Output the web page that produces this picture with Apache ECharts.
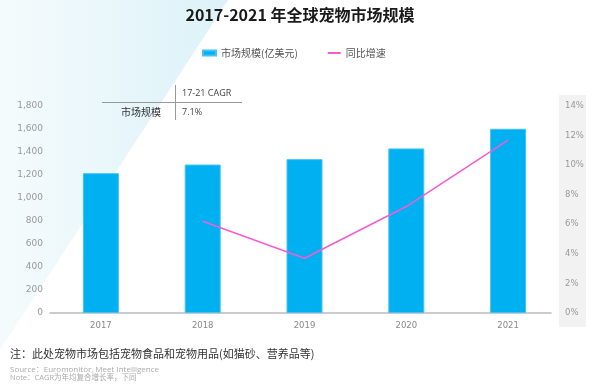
<!DOCTYPE html>
<html>
<head>
<meta charset="utf-8">
<script src="https://cdn.jsdelivr.net/npm/echarts@6/dist/echarts.min.js"></script>
<style>html,body{margin:0;padding:0;background:#fff;}#c{width:600px;height:387px;}</style>
</head>
<body>
<div id="c"></div>
<script>
const years = ['2017', '2018', '2019', '2020', '2021'];
const marketSize = [1216, 1291, 1338, 1431, 1602];
const growthRate = [null, 6.2, 3.7, 7.2, 11.7];
const leftTicks = {min: 0, max: 1800, interval: 200};
const rightTicks = {min: 0, max: 14, interval: 2};
const barName = '市场规模(亿美元)';
const lineName = '同比增速';

const chart = echarts.init(document.getElementById('c'), null, {renderer: 'canvas'});
const cjk = '"Noto Sans CJK SC", "Noto Sans", sans-serif';
const latin = '"Open Sans", "Noto Sans CJK SC", sans-serif';
const option = {
  animation: false,
  backgroundColor: '#fff',
  title: {
    text: '2017-2021 年全球宠物市场规模',
    left: 'center', top: 2,
    textStyle: {fontFamily: cjk, fontSize: 16, fontWeight: 'bold', color: '#1a1a1a'}
  },
  legend: {
    left: 197, top: 43,
    itemGap: 29, itemWidth: 13, itemHeight: 5,
    textStyle: {fontFamily: cjk, fontSize: 10, color: '#555'},
    data: [{name: barName, icon: 'rect'}, {name: lineName, itemStyle: {opacity: 0}}]
  },
  graphic: [
    {type: 'polygon', z: -20, silent: true,
     shape: {points: [[0, 0], [228, 0], [0, 350]]},
     style: {fill: new echarts.graphic.LinearGradient(0, 0, 1, 0, [
       {offset: 0, color: '#f5fbfd'}, {offset: 1, color: '#dcf2f8'}])}},
    {type: 'rect', z: -10, silent: true,
     shape: {x: 559, y: 95, width: 27, height: 232},
     style: {fill: '#f2f2f2'}},
    {type: 'line', shape: {x1: 102, y1: 102.5, x2: 242, y2: 102.5}, style: {stroke: '#999', lineWidth: 1}},
    {type: 'line', shape: {x1: 175.5, y1: 85, x2: 175.5, y2: 120}, style: {stroke: '#999', lineWidth: 1}},
    {type: 'text', x: 182, y: 93, style: {text: '17-21 CAGR', fontFamily: latin, fontSize: 9, fill: '#444', verticalAlign: 'middle'}},
    {type: 'text', x: 182, y: 112, style: {text: '7.1%', fontFamily: latin, fontSize: 9, fill: '#444', verticalAlign: 'middle'}},
    {type: 'text', x: 161, y: 112, style: {text: '市场规模', fontFamily: cjk, fontSize: 10, fill: '#333', align: 'right', verticalAlign: 'middle'}},
    {type: 'text', x: 10, y: 354, style: {text: '注：此处宠物市场包括宠物食品和宠物用品(如猫砂、营养品等)', fontFamily: cjk, fontSize: 11, fill: '#333', verticalAlign: 'middle'}},
    {type: 'text', x: 10, y: 370, style: {text: 'Source：Euromonitor, Meet Intelligence', fontFamily: latin, fontSize: 8, fill: '#aaa', verticalAlign: 'middle'}},
    {type: 'text', x: 10, y: 378, style: {text: 'Note：CAGR为年均复合增长率，下同', fontFamily: latin, fontSize: 7.5, fill: '#aaa', verticalAlign: 'middle'}}
  ],
  grid: [
    {left: 50, right: 41, top: 106, bottom: 74},
    {left: 50, right: 49, top: 106, bottom: 74}
  ],
  xAxis: [
    {type: 'category', gridIndex: 0, data: years,
     axisLine: {show: false}, axisTick: {show: false},
     axisLabel: {fontFamily: 'DejaVu Sans', fontSize: 8.5, color: '#888', margin: 8}},
    {type: 'category', gridIndex: 1, data: years,
     axisLine: {show: true, lineStyle: {color: '#bbb', width: 1.5}},
     axisTick: {show: false}, axisLabel: {show: false}}
  ],
  yAxis: [
    {type: 'value', gridIndex: 0, min: leftTicks.min, max: leftTicks.max, interval: leftTicks.interval,
     axisLine: {show: false}, axisTick: {show: false}, splitLine: {show: false},
     axisLabel: {fontFamily: 'DejaVu Sans', fontSize: 9, color: '#999', margin: 7,
       formatter: v => v.toLocaleString('en-US')}},
    {type: 'value', gridIndex: 0, position: 'right', min: rightTicks.min, max: rightTicks.max, interval: rightTicks.interval,
     axisLine: {show: false}, axisTick: {show: false}, splitLine: {show: false},
     axisLabel: {fontFamily: 'DejaVu Sans', fontSize: 8.5, color: '#999', margin: 6, formatter: '{value}%'}},
    {type: 'value', gridIndex: 1, show: false, min: 0, max: 1}
  ],
  series: [
    {name: barName, type: 'bar', xAxisIndex: 0, yAxisIndex: 0, data: marketSize,
     barWidth: 36,
     itemStyle: {color: '#00b0f0', borderColor: '#45c2f3', borderWidth: 1}},
    {name: lineName, type: 'line', xAxisIndex: 0, yAxisIndex: 1, data: growthRate,
     symbol: 'none', connectNulls: false,
     lineStyle: {color: '#f55ccf', width: 1.5}, itemStyle: {color: '#f55ccf'}}
  ]
};
chart.setOption(option);
</script>
</body>
</html>
